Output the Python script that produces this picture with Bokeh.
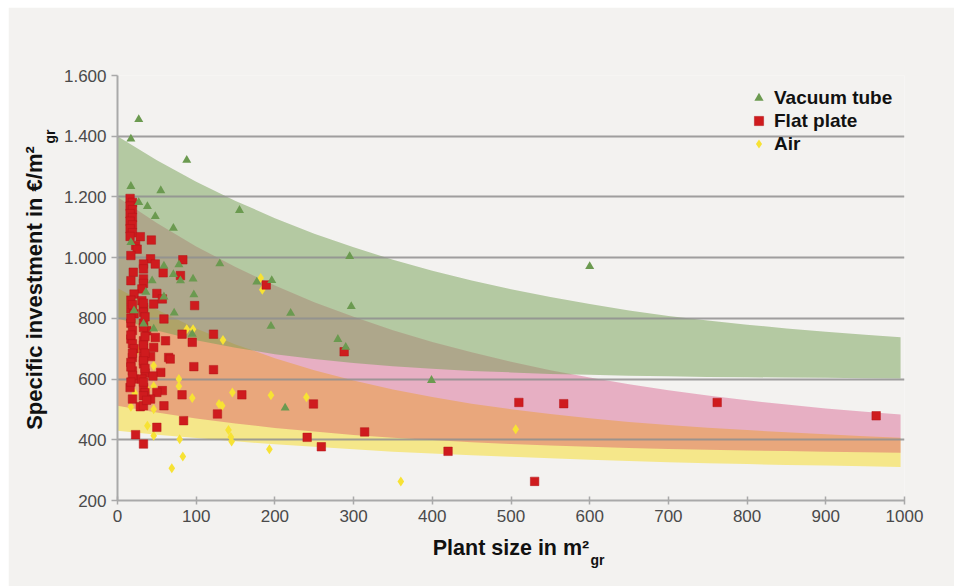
import math
from bokeh.plotting import figure
from bokeh.models import Range1d, FixedTicker, Label, Legend, LegendItem
from bokeh.embed import file_html
from bokeh.resources import INLINE

# ---------------- data ----------------
band_x = [0, 50, 100, 150, 200, 250, 300, 350, 400, 450, 500,
          550, 600, 650, 700, 750, 800, 850, 900, 950, 995]
vacuum_upper = [1400, 1321, 1250, 1187, 1130, 1079, 1034, 993, 957, 925, 896,
                870, 847, 826, 808, 793, 779, 767, 756, 746, 738]
vacuum_lower = [800, 760, 728, 703, 682, 666, 653, 642, 634, 627, 622,
                617, 614, 611, 609, 607, 606, 605, 604, 603, 602]
flat_upper = [1200, 1114, 1037, 969, 908, 853, 805, 761, 722, 688, 657,
              629, 605, 583, 563, 546, 530, 516, 503, 492, 483]
flat_lower = [512, 490, 470, 454, 439, 427, 416, 407, 399, 392, 386,
              381, 377, 373, 370, 367, 365, 363, 361, 359, 357]
air_upper = [900, 829, 767, 714, 669, 629, 595, 566, 541, 519, 501,
             485, 471, 459, 449, 440, 432, 425, 418, 412, 407]
air_lower = [430, 417, 406, 395, 385, 377, 369, 361, 355, 349, 344,
             339, 334, 330, 326, 323, 320, 317, 315, 313, 310]

vac_x = [27, 17, 88, 17, 55, 27, 38, 48, 71, 17, 59, 78, 44, 71, 80, 96, 97, 130,
         155, 295, 177, 196, 36, 59, 21, 220, 72, 195, 95, 46, 33, 297, 280, 290,
         213, 399, 600]
vac_y = [1455, 1391, 1321, 1235, 1221, 1182, 1169, 1136, 1097, 1050, 973, 977, 924,
         945, 924, 930, 878, 980, 1156, 1004, 920, 925, 886, 871, 825, 817, 818, 774,
         748, 765, 782, 839, 731, 705, 505, 596, 971]

flat_x = [16, 19, 16, 19, 16, 19, 16, 19, 16, 19, 16,
          29, 43, 23, 25, 17, 42, 33, 48, 83, 20, 33, 58, 80, 17, 33, 33, 31, 21, 50,
          57, 31, 46, 98, 17, 33, 33, 21, 59, 17, 33, 37, 82, 122, 48, 17, 33, 61, 95,
          19, 46, 21, 33, 33, 19, 65, 67, 42, 17, 33, 97, 122, 55, 19, 35, 21, 31, 45,
          16, 33, 57, 50, 82, 158, 19, 42, 29, 33, 59, 127, 84, 50, 23, 33,
          249, 241, 259, 288, 189, 314, 510, 567, 762, 964, 420, 530,
          17, 19, 17, 19, 17, 19, 17, 19, 17, 33, 35, 33, 35, 33, 35, 33, 35, 33, 35,
          33, 37]
flat_y = [1195, 1182, 1170, 1158, 1145, 1132, 1120, 1108, 1095, 1082, 1070,
          1069, 1058, 1040, 1028, 1007, 996, 979, 979, 993, 952, 963, 950, 941, 924,
          930, 915, 897, 880, 882, 864, 858, 847, 842, 831, 836, 820, 815, 798, 784,
          784, 759, 748, 748, 737, 732, 726, 726, 721, 716, 704, 700, 700, 671, 671,
          671, 666, 674, 655, 650, 641, 631, 622, 627, 620, 600, 600, 610, 572, 572,
          562, 556, 548, 548, 534, 534, 509, 512, 512, 485, 463, 441, 417, 386,
          518, 408, 377, 690, 910, 426, 523, 519, 523, 479, 362, 263,
          860, 845, 800, 760, 745, 685, 640, 612, 590, 850, 805, 770, 740, 712, 685,
          660, 635, 590, 555, 545, 530]

air_x = [182, 184, 88, 96, 134, 25, 17, 46, 78, 78, 22, 38, 46, 36, 46, 95, 146,
         195, 240, 129, 133, 17, 38, 46, 79, 141, 144, 145, 193, 83, 69, 506, 360]
air_y = [933, 894, 764, 764, 729, 697, 627, 644, 600, 576, 553, 565, 576, 533,
         501, 538, 556, 547, 540, 518, 512, 509, 446, 413, 402, 432, 409, 394, 369,
         345, 306, 435, 263]

y_ticks = [200, 400, 600, 800, 1000, 1200, 1400, 1600]
y_tick_labels = ["200", "400", "600", "800", "1.000", "1.200", "1.400", "1.600"]
x_ticks = [0, 100, 200, 300, 400, 500, 600, 700, 800, 900, 1000]

series_names = ["Vacuum tube", "Flat plate", "Air"]
x_title = "Plant size in m²"
y_title = "Specific investment in €/m²"
title_sub = "gr"

# ---------------- figure ----------------
BG = "#f3f2f0"
FONT = "Liberation Sans"
p = figure(width=946, height=579, x_range=Range1d(0, 1000), y_range=Range1d(200, 1600),
           output_backend="svg", toolbar_location=None,
           min_border_left=109, min_border_right=50, min_border_top=68, min_border_bottom=86,
           background_fill_color=BG, border_fill_color=BG, outline_line_color=None)
p.margin = (7, 0, 0, 8)

# bands
p.varea(x=band_x, y1=air_lower, y2=air_upper, fill_color="#f5e78a", level="image")
p.varea(x=band_x, y1=flat_lower, y2=flat_upper, fill_color="#ce135d", fill_alpha=0.3, level="image")
p.varea(x=band_x, y1=vacuum_lower, y2=vacuum_upper, fill_color="#75a054", fill_alpha=0.5, level="image")

# points
r_air = p.scatter(air_x, air_y, marker="diamond", size=10, fill_color="#f7e234", line_color=None)
r_flat = p.scatter(flat_x, flat_y, marker="square", size=8.5, fill_color="#cf1b1e", line_color="#b51418", line_width=0.5)
r_vac = p.scatter(vac_x, vac_y, marker="triangle", size=9, fill_color="#6b9a50", line_color=None)

# axes
for ax in (p.xaxis[0], p.yaxis[0]):
    ax.axis_line_color = "#a9a9a9"
    ax.axis_line_width = 2
    ax.major_tick_line_color = "#a9a9a9"
    ax.major_tick_line_width = 1.5
    ax.minor_tick_line_color = None
    ax.major_label_text_font = FONT
    ax.major_label_text_font_size = "17px"
    ax.major_label_text_color = "#4a4a4a"
    ax.axis_label_text_font = FONT
    ax.axis_label_text_font_style = "bold"
    ax.axis_label_text_color = "#111111"

p.xaxis.ticker = FixedTicker(ticks=x_ticks)
p.xaxis.major_tick_in = 4
p.xaxis.major_tick_out = 4
p.xaxis.major_label_standoff = 5
p.xaxis.axis_label = x_title
p.xaxis.axis_label_text_font_size = "21.5px"
p.xaxis.axis_label_standoff = 11

p.yaxis.ticker = FixedTicker(ticks=y_ticks)
p.yaxis.major_label_overrides = {t: s for t, s in zip(y_ticks, y_tick_labels)}
p.yaxis.major_tick_in = 0
p.yaxis.major_tick_out = 6
p.yaxis.major_label_standoff = 5
p.yaxis.axis_label = y_title
p.yaxis.axis_label_text_font_size = "22px"
p.yaxis.axis_label_standoff = 14

p.xgrid.grid_line_color = None
p.ygrid.grid_line_color = "#8f8f8f"
p.ygrid.grid_line_width = 2
p.ygrid.grid_line_alpha = 0.85

# legend
legend = Legend(items=[LegendItem(label=series_names[0], renderers=[r_vac]),
                       LegendItem(label=series_names[1], renderers=[r_flat]),
                       LegendItem(label=series_names[2], renderers=[r_air])],
                location=(630, 345), border_line_color=None, background_fill_alpha=0,
                padding=0, margin=0, spacing=0, glyph_width=23, glyph_height=23,
                label_height=23, label_standoff=4,
                label_text_font=FONT, label_text_font_style="bold",
                label_text_font_size="19px", label_text_color="#111111")
p.add_layout(legend)

# subscripts of the axis titles, placed in side panels that have room (not clipped)
sub = dict(x_units="screen", y_units="screen", text=title_sub, text_font=FONT,
           text_font_style="bold", text_font_size="14px", text_color="#111111",
           text_baseline="alphabetic", text_align="left")
p.add_layout(Label(x=473, y=-484, **sub), "above")
p.add_layout(Label(x=-855, y=357, angle=math.pi / 2, **sub), "right")

open("out.html", "w").write(file_html(p, INLINE))
